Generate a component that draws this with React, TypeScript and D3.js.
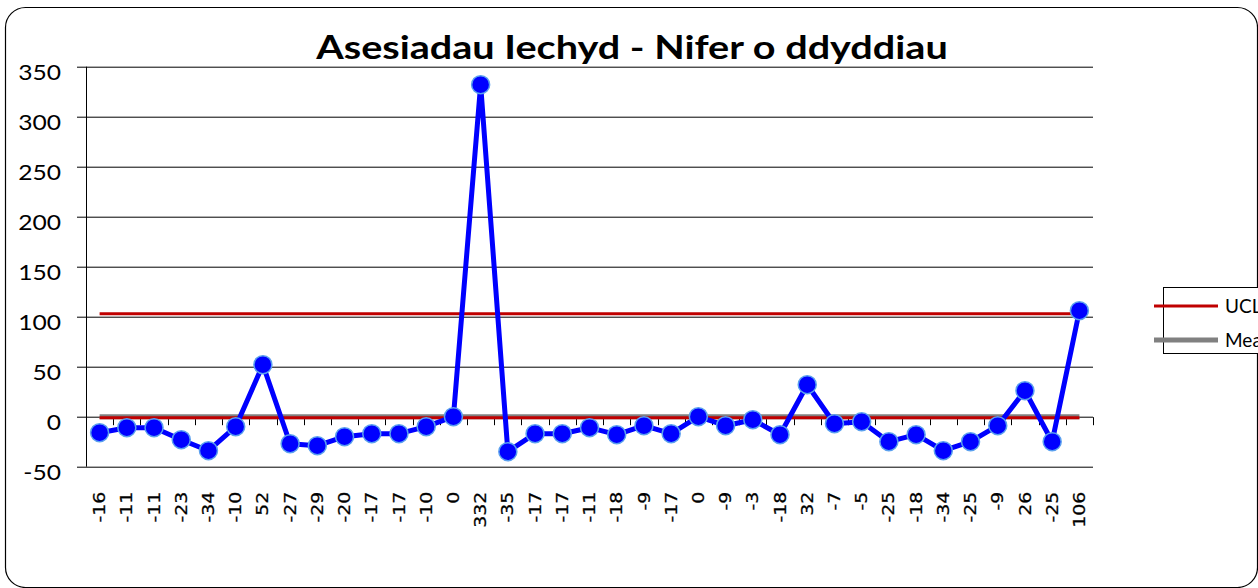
import React, { useEffect, useRef } from 'react'
import * as d3 from 'd3'

// values shown on the x axis are the data values themselves
const values = [-16, -11, -11, -23, -34, -10, 52, -27, -29, -20, -17, -17, -10, 0, 332, -35, -17, -17, -11, -18, -9, -17, 0, -9, -3, -18, 32, -7, -5, -25, -18, -34, -25, -9, 26, -25, 106]
const labels = values.map(v => String(v))
const ucl = 103
const mean = 0
const lcl = -1
const yTicks = [-50, 0, 50, 100, 150, 200, 250, 300, 350]
const legendItems = ['UCL', 'Mean']

export default function App() {
  const svgRef = useRef(null)

  useEffect(() => {
    const W = 1258, H = 588
    const margin = { top: 66.7, right: 165, bottom: 121.3, left: 86 }
    const width = W - margin.left - margin.right
    const height = H - margin.top - margin.bottom

    const svg = d3.select(svgRef.current)
    svg.selectAll('*').remove()

    // outer frame
    svg.append('rect')
      .attr('x', 5.5).attr('y', 7.5)
      .attr('width', 1252).attr('height', 580)
      .attr('rx', 20).attr('ry', 20)
      .attr('fill', '#fff').attr('stroke', '#000').attr('stroke-width', 1.2)

    svg.append('text')
      .attr('transform', 'translate(632,59) scale(1.2,1)')
      .attr('text-anchor', 'middle')
      .attr('font-family', 'Lato')
      .attr('font-weight', 'bold')
      .attr('font-size', 33)
      .text('Asesiadau Iechyd - Nifer o ddyddiau')

    const g = svg.append('g').attr('transform', `translate(${margin.left},${margin.top})`)

    const x = d3.scaleBand().domain(d3.range(values.length).map(String)).range([0, width]).padding(0)
    const y = d3.scaleLinear().domain([-50, 350]).range([height, 0])
    const cx = i => x(String(i)) + x.bandwidth() / 2

    // gridlines + y ticks
    g.selectAll('.grid').data(yTicks).enter().append('line')
      .attr('x1', -9).attr('x2', width)
      .attr('y1', d => Math.round(y(d)) + 0.5).attr('y2', d => Math.round(y(d)) + 0.5)
      .attr('stroke', '#000').attr('stroke-width', 1)

    g.selectAll('.ylab').data(yTicks).enter().append('text')
      .attr('transform', d => `translate(-25,${y(d) + 13}) scale(1.12,1)`)
      .attr('text-anchor', 'end')
      .attr('font-family', 'Lato')
      .attr('font-size', 22)
      .text(d => d)

    g.append('line')
      .attr('x1', 0.5).attr('x2', 0.5).attr('y1', 0).attr('y2', height)
      .attr('stroke', '#000')

    // x ticks on the zero line
    const y0 = Math.round(y(0)) + 0.5
    g.selectAll('.xtick').data(d3.range(values.length + 1)).enter().append('line')
      .attr('x1', d => Math.round(d * x.bandwidth()) + 0.5)
      .attr('x2', d => Math.round(d * x.bandwidth()) + 0.5)
      .attr('y1', y0).attr('y2', y0 + 8)
      .attr('stroke', '#000')

    g.selectAll('.xlab').data(labels).enter().append('text')
      .attr('transform', (d, i) => `translate(${cx(i)},${height + 25}) rotate(-90) scale(1.22,1)`)
      .attr('text-anchor', 'end')
      .attr('dy', '0.36em')
      .attr('font-family', 'DejaVu Sans')
      .attr('font-size', 15.5)
      .attr('stroke', '#000').attr('stroke-width', 0.25)
      .text(d => d)

    // control lines
    const hline = (v, color, w) => g.append('line')
      .attr('x1', cx(0)).attr('x2', cx(values.length - 1))
      .attr('y1', y(v)).attr('y2', y(v))
      .attr('stroke', color).attr('stroke-width', w)
    hline(mean, '#808080', 5)
    hline(lcl, '#c00000', 3)
    hline(ucl, '#c00000', 3)

    const line = d3.line().x((d, i) => cx(i)).y(d => y(d))
    g.append('path').datum(values)
      .attr('d', line)
      .attr('fill', 'none')
      .attr('stroke', '#0000ff')
      .attr('stroke-width', 5)
      .attr('stroke-linejoin', 'round')

    g.selectAll('.pt').data(values).enter().append('circle')
      .attr('cx', (d, i) => cx(i)).attr('cy', d => y(d))
      .attr('r', 9)
      .attr('fill', '#0000ff')
      .attr('stroke', '#5aa0ef').attr('stroke-width', 1.5)

    // legend (runs off the right edge, as in the original)
    const lg = svg.append('g').attr('transform', 'translate(1163,287)')
    lg.append('rect').attr('x', 0.5).attr('y', 0.5).attr('width', 120).attr('height', 66)
      .attr('fill', '#fff').attr('stroke', '#000')
    legendItems.forEach((name, i) => {
      const ly = 19 + i * 34
      lg.append('line').attr('x1', -9).attr('x2', 55).attr('y1', ly).attr('y2', ly)
        .attr('stroke', i === 0 ? '#c00000' : '#808080')
        .attr('stroke-width', i === 0 ? 3 : 5)
      lg.append('text').attr('x', 62).attr('y', ly + 7)
        .attr('font-family', 'Lato').attr('font-size', 19)
        .text(name)
    })
  }, [])

  return (
    <div style={{ position: 'fixed', left: 0, top: 0, width: 1258, height: 588, background: '#fff' }}>
      <svg ref={svgRef} width={1258} height={588}></svg>
    </div>
  )
}
